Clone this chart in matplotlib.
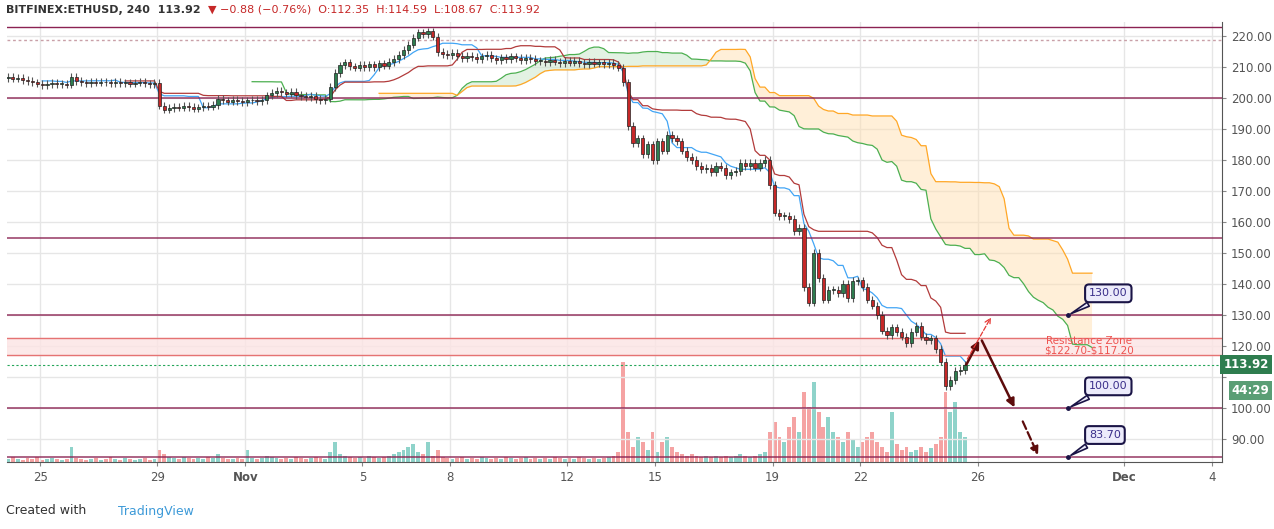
import numpy as np
import matplotlib
matplotlib.use("Agg")
import matplotlib.pyplot as plt

closes = [206.5,206.8,206.2,206.5,205.8,205.5,205,204.6,204.2,204.5,204.8,204.4,204.6,204.3,
          206.8,
          205.5,205,204.8,205.2,204.9,205.3,205,204.7,205.1,204.8,205,204.6,204.9,205.2,204.7,204.5,204.8,
          197.5,196.2,196.8,197.2,196.9,197.5,197.1,196.6,197,197.4,197.2,197.8,
          199.6,199.2,198.8,199.3,199,198.7,199.2,199.5,198.9,199.4,
          200.8,201.6,202.2,201.8,
          201.4,201.9,201,200.6,200.2,200.7,199.6,199.2,199.8,
          203.5,208,210.5,
          211.5,210.2,209.8,210.6,210,210.8,209.9,211.2,210.4,211.6,212.5,
          213.8,215.5,217.2,219.5,221.2,
          220.5,221.5,219.8,214.8,
          214.2,213.8,214.6,213.5,212.8,213.6,213.2,212.5,213.4,214,212.8,212.2,213.1,212.6,213.4,212.9,212.3,213,212.5,211.8,
          212,211.5,212.2,211.7,211.2,212,211.4,211.9,211.3,210.8,211.6,211.1,211.5,210.9,211.3,210.6,209.8,
          205,191,185.5,187,182,185,180,186,183,188,187,
          186,183,181,180,178,177,177.5,176,178,177.5,175,176,176.5,179,178,179,177.5,179,180,
          172,163,162,162,161,157,158,
          139,134,150,142,135,138,138.2,137,140,135.5,141,141.2,139,135,133,130,125,123.5,126,124.5,
          123,121,124.5,126.5,123,122,122.5,119,115,107,109,112,112.2,113.92]
volumes = [4,3,5,3,2,4,3,5,2,3,4,3,2,3,15,4,3,2,3,4,2,3,5,3,2,4,3,2,3,4,2,3,
           12,8,5,4,3,5,4,3,4,3,5,4,
           8,4,3,3,4,3,12,4,3,4,
           6,5,4,3,4,3,5,4,3,4,5,4,3,
           10,20,8,
           6,5,4,5,4,6,5,4,5,6,8,
           10,12,15,18,10,8,20,6,12,
           5,4,3,4,5,3,4,3,5,4,3,4,3,5,4,3,4,5,3,4,3,4,3,5,4,3,4,3,5,4,3,4,3,4,5,6,10,
           100,30,15,25,20,12,30,10,20,25,15,
           10,8,6,8,6,5,6,5,6,5,6,5,6,8,6,5,6,8,10,
           30,40,25,20,35,45,30,
           70,55,80,50,35,45,30,25,20,30,22,15,20,25,30,20,15,10,50,18,12,15,10,12,15,10,14,18,25,70,50,60,30,25]
tick_pos = [0,4,7,11,14,18,21,25,28,32,37,40]
tick_lab = ['25','29','Nov','5','8','12','15','19','22','26','Dec','4']
levels = [200,155,130,100,84.3]
callouts = [("130.00",130),("100.00",100),("83.70",84.3)]
zone = (117.2,122.7)

n = min(len(closes), len(volumes))
c = np.array(closes[:n]); v = np.array(volumes[:n])
o = np.concatenate([[206.3], c[:-1]])
h = np.maximum(o, c) + 1.2
l = np.minimum(o, c) - 1.2
step = 1/6
x0 = 31.57 - (n-1)*step
x = x0 + np.arange(n)*step

def mid(arr_h, arr_l, p):
    out = np.full(n, np.nan)
    for i in range(p-1, n):
        out[i] = (arr_h[i-p+1:i+1].max() + arr_l[i-p+1:i+1].min())/2
    return out
tenkan = mid(h,l,9); kijun = mid(h,l,26)
spanA = (tenkan+kijun)/2; spanB = mid(h,l,52)
xs = x0 + (np.arange(n)+26)*step

fig = plt.figure(figsize=(12.74,5.29), dpi=100)
ax = fig.add_axes([7/1274, 67/529, 1215/1274, 440/529])
ax.set_xlim(-1.13, 40.34); ax.set_ylim(82.6, 224.5)
for t in tick_pos: ax.axvline(t, color='#e6e6e6', lw=1, zorder=0)
for yv in range(90,221,10): ax.axhline(yv, color='#e6e6e6', lw=1, zorder=0)

ax2 = ax.twinx(); ax2.set_ylim(0,440); ax2.axis('off')
up = c >= o
ax2.bar(x, v, width=step*0.8, color=np.where(up,'#8fd3ca','#f5a3a3'), zorder=1)
ax.set_zorder(ax2.get_zorder()+1); ax.patch.set_visible(False)

ax.fill_between(xs, spanA, spanB, where=spanA>=spanB, color='#c8e6c9', alpha=0.5, lw=0, interpolate=True)
ax.fill_between(xs, spanA, spanB, where=spanA<spanB, color='#ffe0b2', alpha=0.5, lw=0, interpolate=True)
ax.plot(xs, spanA, color='#4caf50', lw=0.9)
ax.plot(xs, spanB, color='#ffa726', lw=0.9)
ax.plot(x, tenkan, color='#42a5f5', lw=0.9)
ax.plot(x, kijun, color='#b23b3b', lw=0.9)

ax.axhspan(zone[0], zone[1], color='#fce4e4', alpha=0.8, zorder=1)
for zv in zone: ax.axhline(zv, color='#e57373', lw=1)
ax.text(35.8, 120.2, "Resistance Zone\n\\$122.70-\\$117.20", color='#ef5350', fontsize=7.5, ha='center', va='center', linespacing=0.9)
for lv in levels: ax.axhline(lv, color='#8b2252', lw=1.1, alpha=0.9)
ax.axhline(222.8, color='#8b2252', lw=1)
ax.axhline(218.7, color='#c9a0a8', lw=1, ls=(0,(2,2)))
ax.axhline(113.92, color='#26a65b', lw=0.8, ls=(0,(2,2)))

for i in range(n):
    col = '#2e7d4f' if up[i] else '#c62828'
    ax.vlines(x[i], l[i], h[i], color='#555555', lw=0.8, zorder=3)
    ax.bar(x[i], max(abs(c[i]-o[i]),0.3), bottom=min(o[i],c[i]), width=step*0.65,
           color=col, edgecolor='#222222', lw=0.5, zorder=4)

ar = dict(arrowstyle='-|>', color='#5d0c0c', lw=1.8, mutation_scale=12)
ax.annotate('', xy=(32.1,122.6), xytext=(31.5,112), arrowprops=ar)
ax.annotate('', xy=(33.3,99.4), xytext=(32.1,122.6), arrowprops=ar)
ax.annotate('', xy=(34.1,84), xytext=(33.5,96.5), arrowprops=dict(arrowstyle='-|>', color='#5d0c0c', lw=1.6, ls='--', mutation_scale=12))
ax.annotate('', xy=(32.5,130), xytext=(31.6,115), arrowprops=dict(arrowstyle='->', color='#e53935', lw=0.9, ls='--'))

for txt, yv in callouts:
    ax.annotate(txt, xy=(35.1,yv), xytext=(35.8,yv+7), fontsize=8, color='#3a2f8a', va='center',
                bbox=dict(boxstyle='round,pad=0.35', fc='#ecebfb', ec='#1a1446', lw=1.5),
                arrowprops=dict(arrowstyle='wedge,tail_width=0.4', fc='#ecebfb', ec='#1a1446', lw=1.2))
    ax.plot(35.1, yv, 'o', color='#1a1446', ms=2.5, zorder=6)

ax.set_xticks(tick_pos)
ax.set_xticklabels(tick_lab, fontsize=8.5, color='#555555')
for lab in ax.get_xticklabels():
    if lab.get_text() in ('Nov','Dec'): lab.set_fontweight('bold')
ax.yaxis.tick_right()
ax.set_yticks(range(90,221,10))
ax.set_yticklabels([f"{t:.2f}" if t != 110 else "" for t in range(90,221,10)], fontsize=8.5, color='#555555')
ax.tick_params(length=3, color='#888888')
for s in ['top','left']: ax.spines[s].set_visible(False)
for s in ['right','bottom']: ax.spines[s].set_color('#555555')
ax.text(1.001, (113.92-82.6)/(224.5-82.6), "113.92", transform=ax.transAxes, fontsize=8.5, color='white',
        weight='bold', va='center', bbox=dict(boxstyle='square,pad=0.25', fc='#2e7d4f', ec='none'))
ax.text(1.008, (105.6-82.6)/(224.5-82.6), "44:29", transform=ax.transAxes, fontsize=8.5, color='white',
        weight='bold', va='center', bbox=dict(boxstyle='square,pad=0.25', fc='#5a9e75', ec='none'))

fig.text(6/1274, 1-10/529, "BITFINEX:ETHUSD, 240  113.92", fontsize=8, weight='bold', color='#333333', va='center')
fig.text(208/1274, 1-10/529, "\u25bc \u22120.88 (\u22120.76%)  O:112.35  H:114.59  L:108.67  C:113.92",
         fontsize=8, color='#c62828', va='center')
fig.text(6/1274, 1-511/529, "Created with", fontsize=9, color='#333333', va='center')
fig.text(118/1274, 1-511/529, "TradingView", fontsize=9, color='#3d9ad8', va='center')
fig.savefig("out.png", dpi=100)
